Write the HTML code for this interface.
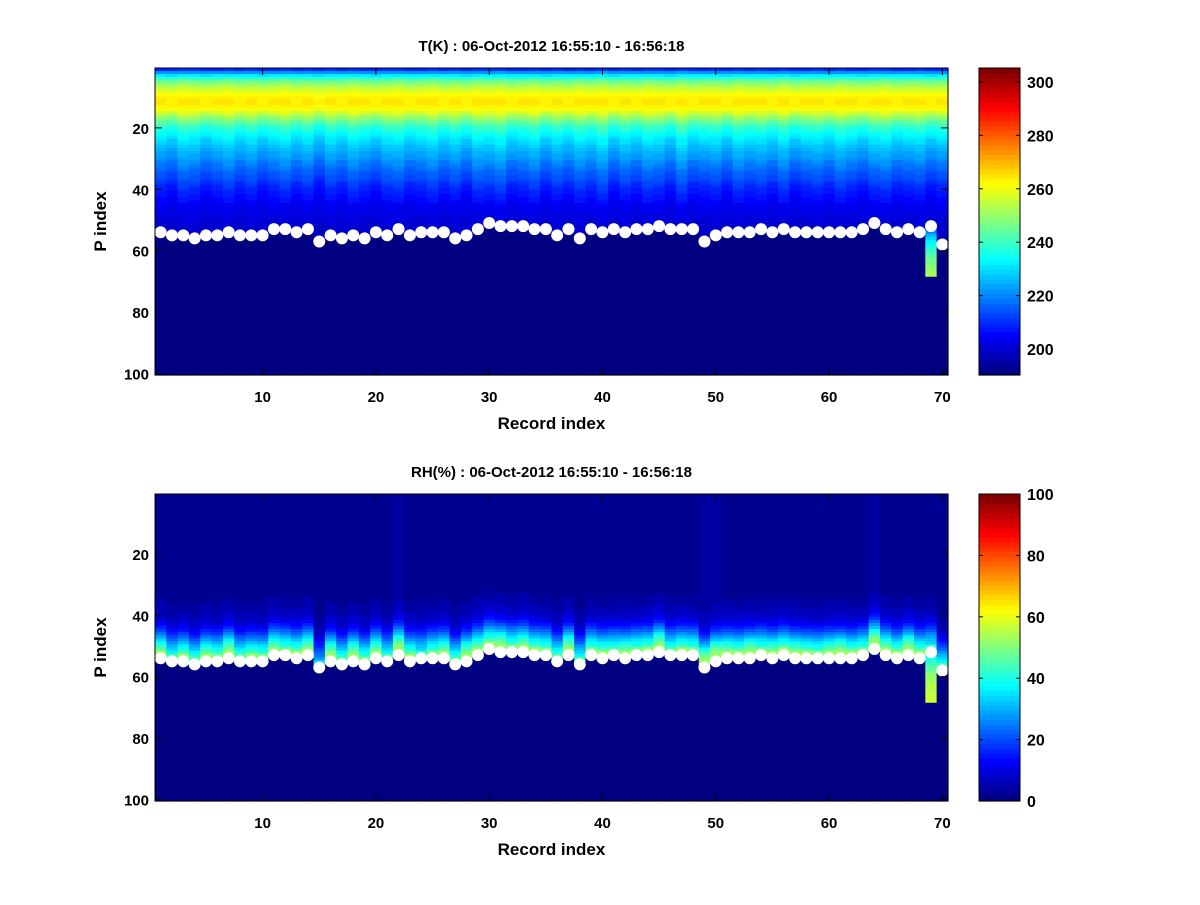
<!DOCTYPE html>
<html><head><meta charset="utf-8"><style>
body{margin:0;background:#fff;}
svg text{font-family:"Liberation Sans",Arial,sans-serif;font-weight:bold;fill:#000;}
</style></head><body>
<svg id="fig" width="1200" height="900" xmlns="http://www.w3.org/2000/svg">
<rect width="1200" height="900" fill="#fff"/>
</svg>
<script>
// ---- data ----
const records = Array.from({length:70},(_,i)=>i+1);
const surfaceP = [54,55,55,56,55,55,54,55,55,55,53,53,54,53,57,55,56,55,56,54,55,53,55,54,54,54,56,55,53,51,52,52,52,53,53,55,53,56,53,54,53,54,53,53,52,53,53,53,57,55,54,54,54,53,54,53,54,54,54,54,54,54,53,51,53,54,53,54,52,58];
const tProfile = [210,222,232,240,246,251,255,258,261,263,264,264,263,261,257,253,249,245,241,238,236,234,232,230,229,227,226,224,223,222,220,219,218,216,215,214,213,211,210,209,208,207,206,205,204,203,203,202,202,201,201,200,200,200,199,199,199,198,198,198];
const tColOffset = [0,-2,2,1,-2,0,2,-1,1,-2,0,2,-1,1,-3,1,-1,2,0,-2,1,2,-1,0,2,-1,1,-2,2,1,3,-1,0,2,-2,1,-1,2,0,3,-2,1,-1,2,1,-2,3,-1,0,1,-2,2,0,1,-1,2,-2,0,1,-1,2,0,-2,1,2,-1,0,1,-2,0];
const rhByDepth = [56,54,52,49,45,41,36,31,26,21,17,14,11,9,8,7,6,5,5,4];
const rhColFactor = [0.95,0.75,0.9,0.8,0.95,0.85,1.0,0.8,0.9,0.85,0.95,0.85,0.9,0.95,0.55,1.0,0.8,1.0,0.85,0.95,0.75,1.05,0.9,0.7,0.85,0.95,0.8,1.0,0.95,0.9,1.0,0.85,0.95,0.9,0.85,0.8,1.0,0.75,0.85,0.9,0.8,0.95,0.85,0.9,1.0,0.8,0.9,0.85,1.05,1.05,0.95,0.9,1.0,0.85,0.95,0.9,0.95,0.9,0.85,0.95,1.0,0.9,0.85,1.05,0.95,0.9,1.0,0.9,0.7,0.75];
const col69T = [215,220,225,229,232,235,238,240,242,244,246,247,248,250,251,252];
const col69RH = [38,40,42,44,46,48,50,52,53,54,55,56,56,57,57,58];
const tRange=[190.3,305.2], rhRange=[0,100];
const tTicks=[200,220,240,260,280,300], rhTicks=[0,20,40,60,80,100];
const xTicks=[10,20,30,40,50,60,70], yTicks=[20,40,60,80,100];

const NS="http://www.w3.org/2000/svg";
const svg=document.getElementById('fig');
function mk(tag,attrs,parent){const e=document.createElementNS(NS,tag);for(const k in attrs)e.setAttribute(k,attrs[k]);(parent||svg).appendChild(e);return e;}
function jet(t){t=Math.max(0,Math.min(1,t));t=Math.min(63,Math.floor(t*64))/63;
 const c=v=>Math.round(255*Math.max(0,Math.min(1,v)));
 return `rgb(${c(1.5-Math.abs(4*t-3))},${c(1.5-Math.abs(4*t-2))},${c(1.5-Math.abs(4*t-1))})`;}

function panel(top,title,valFn,range,cTicks,nm){
 const L=155,R=948,B=top+307,W=R-L,H=B-top;
 const sx=r=>L+(r-0.5)*W/70, sy=p=>top+(p-0.5)*H/100;
 const g=mk('g',{});
 for(let c=0;c<70;c++)for(let p=1;p<=100;p++){
  const v=valFn(c,p);const t=(v-range[0])/(range[1]-range[0]);
  mk('rect',{x:sx(c+0.5).toFixed(2),y:sy(p-0.5).toFixed(2),width:(W/70+0.6).toFixed(2),height:(H/100+0.6).toFixed(2),fill:jet(t)},g);
 }
 const dg=mk('g',{});
 records.forEach((r,i)=>{const d=mk('circle',{cx:sx(r),cy:sy(surfaceP[i]),r:6,fill:'#fff'},dg);
  });
 const ax=mk('rect',{x:L,y:top,width:W,height:H,fill:'none',stroke:'#000','stroke-width':1});
 
 xTicks.forEach(v=>{const x=sx(v);mk('line',{x1:x,x2:x,y1:B,y2:B-7,stroke:'#000'});mk('line',{x1:x,x2:x,y1:top,y2:top+7,stroke:'#000'});
  const t=mk('text',{x:x,y:B+27,'text-anchor':'middle','font-size':15});t.textContent=v;
  });
 yTicks.forEach(v=>{const y=sy(v);mk('line',{x1:L,x2:L+7,y1:y,y2:y,stroke:'#000'});mk('line',{x1:R,x2:R-7,y1:y,y2:y,stroke:'#000'});
  const t=mk('text',{x:L-6,y:y+6,'text-anchor':'end','font-size':15});t.textContent=v;
  });
 let t=mk('text',{x:(L+R)/2,y:top-17,'text-anchor':'middle','font-size':15});t.textContent=title;
 
 t=mk('text',{x:(L+R)/2,y:B+54,'text-anchor':'middle','font-size':17});t.textContent='Record index';
 
 t=mk('text',{x:0,y:0,'text-anchor':'middle','font-size':17,transform:`translate(106,${(top+B)/2}) rotate(-90)`});t.textContent='P index';
 
 const cx=979,cw=41;const cg=mk('g',{});
 for(let i=0;i<64;i++){const h=H/64;mk('rect',{x:cx,y:(B-(i+1)*h).toFixed(2),width:cw,height:(h+0.6).toFixed(2),fill:jet((i+0.5)/64)},cg);}
 mk('rect',{x:cx,y:top,width:cw,height:H,fill:'none',stroke:'#000'},cg);
 const cy=v=>B-(v-range[0])/(range[1]-range[0])*H;
 cTicks.forEach(v=>{const y=cy(v);mk('line',{x1:cx,x2:cx+4,y1:y,y2:y,stroke:'#000'},cg);mk('line',{x1:cx+cw,x2:cx+cw-4,y1:y,y2:y,stroke:'#000'},cg);
  const tt=mk('text',{x:1027,y:y+6,'font-size':16},cg);tt.textContent=v;
  });
}
panel(68,'T(K) : 06-Oct-2012 16:55:10 - 16:56:18',(c,p)=>{
 const s=surfaceP[c];
 if(p>s){ if(c===68&&p-s-1<col69T.length)return col69T[p-s-1]; return tRange[0];}
 const base=p<=tProfile.length?tProfile[p-1]:200;
 const w=p>14&&p<45?1:0.3;
 return base+tColOffset[c]*w;},tRange,tTicks,'temperature');
panel(494,'RH(%) : 06-Oct-2012 16:55:10 - 16:56:18',(c,p)=>{
 const s=surfaceP[c];
 if(p>s){ if(c===68&&p-s-1<col69RH.length)return col69RH[p-s-1]; return 0;}
 const d=s-p; const v=d<rhByDepth.length?rhByDepth[d]:3;
 return d<3?v*Math.min(1,rhColFactor[c]+0.1):v*rhColFactor[c];},rhRange,rhTicks,'humidity');
</script>
</body></html>
